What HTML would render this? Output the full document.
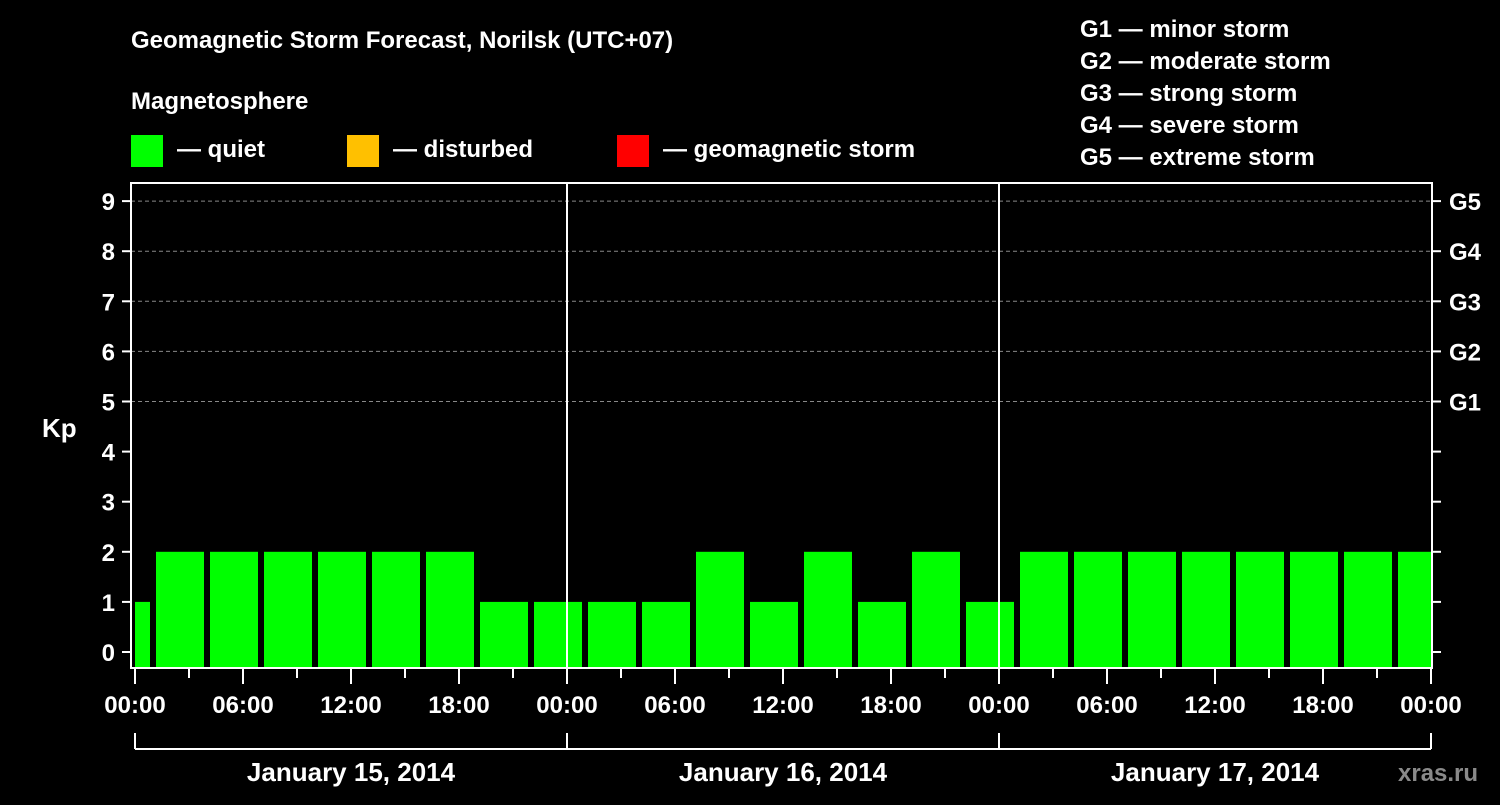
<!DOCTYPE html>
<html><head><meta charset="utf-8"><style>
body{margin:0;background:#000;width:1500px;height:800px;overflow:hidden}
svg text{font-family:"Liberation Sans",Arial,sans-serif;font-weight:bold;fill:#fff}
</style></head><body>
<svg width="1500" height="800" id="chart">
<text x="131" y="48" font-size="24">Geomagnetic Storm Forecast, Norilsk (UTC+07)</text>
<text x="131" y="109" font-size="24">Magnetosphere</text>
<g>
<rect x="131" y="135" width="32" height="32" fill="#00ff00"/>
<text x="177" y="157" font-size="24">— quiet</text>
<rect x="347" y="135" width="32" height="32" fill="#ffc000"/>
<text x="393" y="157" font-size="24">— disturbed</text>
<rect x="617" y="135" width="32" height="32" fill="#ff0000"/>
<text x="663" y="157" font-size="24">— geomagnetic storm</text>
</g>
<g font-size="24">
<text x="1080" y="37">G1 — minor storm</text>
<text x="1080" y="69">G2 — moderate storm</text>
<text x="1080" y="101">G3 — strong storm</text>
<text x="1080" y="133">G4 — severe storm</text>
<text x="1080" y="165">G5 — extreme storm</text>
</g>
<text x="42" y="437" font-size="26">Kp</text>
<text x="1398" y="781" font-size="24" fill="#888" style="fill:#8a8a8a">xras.ru</text>
<g id="plot"></g>
</svg>
<script>
const kpValues=[1,2,2,2,2,2,2,1,1,1,1,2,1,2,1,2,1,2,2,2,2,2,2,2,2];
const yTicks=[0,1,2,3,4,5,6,7,8,9];
const gLabels=["G1","G2","G3","G4","G5"];
const xTickLabels=["00:00","06:00","12:00","18:00","00:00","06:00","12:00","18:00","00:00","06:00","12:00","18:00","00:00"];
const dayLabels=["January 15, 2014","January 16, 2014","January 17, 2014"];
const NS="http://www.w3.org/2000/svg";
const L=131,R=1432,T=183,B=668;
const x=h=>135+h*18;
const y=v=>652-v*50.1;
const g=document.getElementById('plot');
function mk(t,a){const e=document.createElementNS(NS,t);for(const k in a)e.setAttribute(k,a[k]);g.appendChild(e);return e;}
// grid
yTicks.forEach(v=>{if(v>=5){const l=mk('line',{x1:L,x2:R,y1:y(v),y2:y(v),stroke:'#888','stroke-dasharray':'4,3','stroke-width':1});

}});
// bars
kpValues.forEach((v,i)=>{let s=x(-2+i*3)+3,e=x(1+i*3)-3;s=Math.max(s,x(0));e=Math.min(e,x(72));
const c=v>=5?'#ff0000':(v>=4?'#ffc000':'#00ff00');
const r=mk('rect',{x:s,y:y(v),width:e-s,height:B-y(v),fill:c});

});
// day separators
[24,48].forEach(h=>{const l=mk('line',{x1:x(h),x2:x(h),y1:T,y2:B,stroke:'#fff','stroke-width':2});

});
// frame
const f=mk('rect',{x:L,y:T,width:R-L,height:B-T,fill:'none',stroke:'#fff','stroke-width':2});


// y ticks
yTicks.forEach(v=>{mk('line',{x1:L-9,x2:L,y1:y(v),y2:y(v),stroke:'#fff','stroke-width':2});
mk('line',{x1:R,x2:R+9,y1:y(v),y2:y(v),stroke:'#fff','stroke-width':2});
const t=mk('text',{x:L-16,y:y(v)+9,'font-size':24,'text-anchor':'end'});t.textContent=v;

});
gLabels.forEach((s,i)=>{const t=mk('text',{x:1449,y:y(5+i)+9,'font-size':24});t.textContent=s;

});
// x ticks
for(let h=0;h<=72;h+=3){const maj=h%6==0;mk('line',{x1:x(h),x2:x(h),y1:B,y2:B+(maj?16:10),stroke:'#fff','stroke-width':2});}
xTickLabels.forEach((s,i)=>{const t=mk('text',{x:x(i*6),y:713,'font-size':24,'text-anchor':'middle'});t.textContent=s;

});
// day bracket
mk('line',{x1:x(0),x2:x(72),y1:749,y2:749,stroke:'#fff','stroke-width':2});
[0,24,48,72].forEach(h=>mk('line',{x1:x(h),x2:x(h),y1:733,y2:749,stroke:'#fff','stroke-width':2}));
dayLabels.forEach((s,i)=>{const t=mk('text',{x:x(i*24+12),y:781,'font-size':26,'text-anchor':'middle'});t.textContent=s;

});
</script>
</body></html>
